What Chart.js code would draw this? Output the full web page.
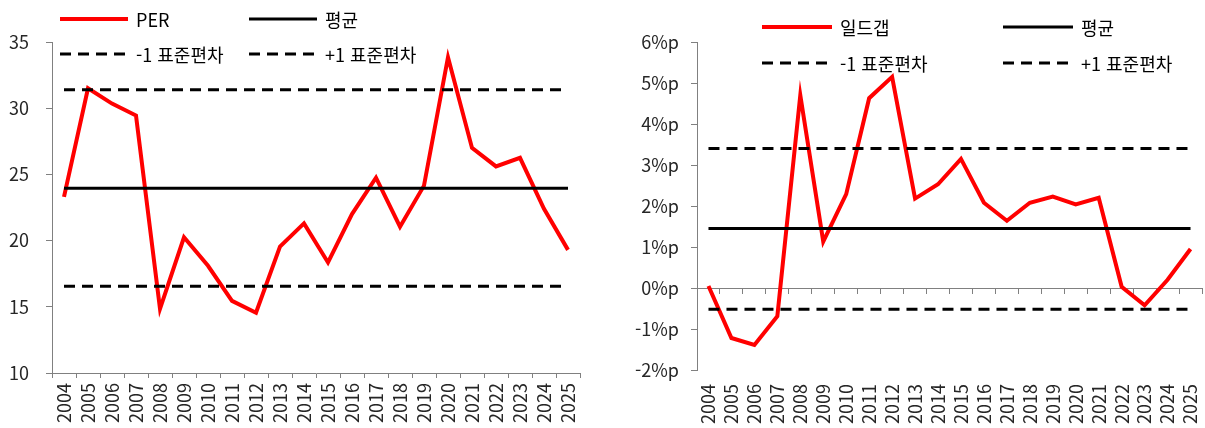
<!DOCTYPE html>
<html lang="ko">
<head>
<meta charset="utf-8">
<script src="https://cdn.jsdelivr.net/npm/chart.js@4.4.1/dist/chart.umd.min.js"></script>
<style>
html, body { margin: 0; padding: 0; background: #fff; }
#wrap { position: relative; width: 1205px; height: 428px; overflow: hidden;
        font-family: 'Noto Sans CJK KR', 'Noto Sans', sans-serif; }
#wrap canvas { position: absolute; top: 0; }
#perCanvas { left: 0; }
#gapCanvas { left: 600px; }
.legend { position: absolute; }
.legend .item { position: absolute; display: flex; align-items: center; height: 30px;
                margin-top: -15px; white-space: nowrap; font-size: 18px; color: #000; }
.legend svg { display: block; margin-right: 8px; }
</style>
</head>
<body>
<div id="wrap">
  <canvas id="perCanvas" width="600" height="428"></canvas>
  <canvas id="gapCanvas" width="605" height="428"></canvas>
  <div class="legend" id="perLegend" style="left:60px; top:19px;"></div>
  <div class="legend" id="gapLegend" style="left:762px; top:27px;"></div>
</div>
<script>
// Years on the category axis
const years = ['2004', '2005', '2006', '2007', '2008', '2009', '2010', '2011', '2012', '2013', '2014',
               '2015', '2016', '2017', '2018', '2019', '2020', '2021', '2022', '2023', '2024', '2025'];

// Left panel: PER with its average and ±1 standard deviation bands
const perValues = [23.3, 31.5, 30.35, 29.45, 14.85, 20.25, 18.1, 15.45, 14.55, 19.55, 21.3,
                   18.35, 22.0, 24.75, 21.05, 24.15, 33.85, 27.0, 25.6, 26.25, 22.4, 19.3];
const perMean = 23.95;
const perLowerBand = 16.55;
const perUpperBand = 31.4;
const perLabels = ['PER', '평균', '-1 표준편차', '+1 표준편차'];

// Right panel: yield gap (%p) with its average and ±1 standard deviation bands
const gapValues = [0.05, -1.22, -1.39, -0.69, 4.7, 1.13, 2.29, 4.63, 5.15, 2.18, 2.53,
                   3.15, 2.08, 1.64, 2.08, 2.23, 2.04, 2.2, 0.03, -0.42, 0.2, 0.95];
const gapMean = 1.45;
const gapLowerBand = -0.52;
const gapUpperBand = 3.4;
const gapLabels = ['일드갭', '평균', '-1 표준편차', '+1 표준편차'];

// Value-axis ranges and the tick label suffix of the right panel
const perAxis = { min: 10, max: 35, step: 5 };
const gapAxis = { min: -2, max: 6, step: 1 };
const gapTickSuffix = '%p';

const RED = '#ff0000';
const BLACK = '#000000';
const AXIS = '#808080';
const TEXT = '#262626';
const FONT = "'Noto Sans CJK KR', 'Noto Sans', sans-serif";
const DASH = [11, 7];

Chart.defaults.font.family = FONT;
Chart.defaults.font.size = 18;
Chart.defaults.color = TEXT;

function flat(v) { return years.map(() => v); }

function buildDatasets(labels, values, mean, lower, upper, xId) {
  const common = { pointRadius: 0, pointHoverRadius: 0, tension: 0, fill: false,
                   xAxisID: xId, yAxisID: 'y' };
  return [
    Object.assign({ label: labels[0], data: values, borderColor: RED, borderWidth: 4, order: 1 }, common),
    Object.assign({ label: labels[1], data: flat(mean), borderColor: BLACK, borderWidth: 3, order: 0 }, common),
    Object.assign({ label: labels[2], data: flat(lower), borderColor: BLACK, borderWidth: 3, borderDash: DASH, order: 0 }, common),
    Object.assign({ label: labels[3], data: flat(upper), borderColor: BLACK, borderWidth: 3, borderDash: DASH, order: 0 }, common)
  ];
}

// Keep the plot edges where the layout padding puts them, without extra room for rotated labels
function fixCategoryAxis(height) {
  return (s) => {
    if (height !== undefined) s.height = height;
    s.paddingLeft = 0;
    s.paddingRight = 0;
  };
}

const baseOptions = {
  responsive: false,
  animation: false,
  devicePixelRatio: 1,
  events: [],
  plugins: { legend: { display: false }, tooltip: { enabled: false } }
};

// Left chart: PER
const perChart = new Chart(document.getElementById('perCanvas'), {
  type: 'line',
  data: { labels: years, datasets: buildDatasets(perLabels, perValues, perMean, perLowerBand, perUpperBand, 'x') },
  options: Object.assign({}, baseOptions, {
    layout: { padding: { top: 42, right: 20, left: 0, bottom: 0 } },
    scales: {
      x: {
        type: 'category', axis: 'x', position: 'bottom', offset: true,
        border: { display: true, color: AXIS, width: 1 },
        grid: { display: true, drawOnChartArea: false, drawTicks: true, tickLength: 5, color: AXIS, offset: true },
        ticks: { autoSkip: false, minRotation: 90, maxRotation: 90, padding: 5, color: TEXT, font: { size: 18 } },
        afterFit: fixCategoryAxis(55)
      },
      y: {
        type: 'linear', position: 'left', min: perAxis.min, max: perAxis.max,
        border: { display: true, color: AXIS, width: 1 },
        grid: { drawOnChartArea: false, tickLength: 6, color: AXIS },
        ticks: { stepSize: perAxis.step, padding: 17, color: TEXT, font: { size: 18 } },
        afterFit: (s) => { s.width = 52; }
      }
    }
  })
});

// Right chart: yield gap, the category axis line sits on the zero value
const gapChart = new Chart(document.getElementById('gapCanvas'), {
  type: 'line',
  data: { labels: years, datasets: buildDatasets(gapLabels, gapValues, gapMean, gapLowerBand, gapUpperBand, 'x') },
  options: Object.assign({}, baseOptions, {
    layout: { padding: { top: 42, right: 3, left: 0, bottom: 0 } },
    scales: {
      x: {
        type: 'category', axis: 'x', position: { y: 0 }, offset: true,
        border: { display: true, color: AXIS, width: 1 },
        grid: { display: true, drawOnChartArea: false, drawTicks: true, tickLength: 5, color: AXIS, offset: true },
        ticks: { display: false, autoSkip: false },
        afterFit: fixCategoryAxis()
      },
      xb: {
        type: 'category', axis: 'x', position: 'bottom', offset: true,
        border: { display: false },
        grid: { display: false, drawTicks: true, tickLength: 5 },
        ticks: { autoSkip: false, minRotation: 90, maxRotation: 90, padding: 9, color: TEXT, font: { size: 18 } },
        afterFit: fixCategoryAxis(58)
      },
      y: {
        type: 'linear', position: 'left', min: gapAxis.min, max: gapAxis.max,
        border: { display: true, color: AXIS, width: 1 },
        grid: { drawOnChartArea: false, tickLength: 6, color: AXIS },
        ticks: { stepSize: gapAxis.step, padding: 12, color: TEXT, font: { size: 18 },
                 callback: (v) => v + gapTickSuffix },
        afterFit: (s) => { s.width = 97; }
      }
    }
  })
});

// Two-column legend built from each chart's dataset styles
function buildLegend(chart, el, colWidth, rowHeight, sampleWidth) {
  chart.data.datasets.forEach((ds, i) => {
    const item = document.createElement('div');
    item.className = 'item';
    item.style.left = (i % 2) * colWidth + 'px';
    item.style.top = Math.floor(i / 2) * rowHeight + 'px';
    const ns = 'http://www.w3.org/2000/svg';
    const svg = document.createElementNS(ns, 'svg');
    svg.setAttribute('width', sampleWidth);
    svg.setAttribute('height', 8);
    const line = document.createElementNS(ns, 'line');
    line.setAttribute('x1', 0); line.setAttribute('y1', 4);
    line.setAttribute('x2', sampleWidth); line.setAttribute('y2', 4);
    line.setAttribute('stroke', ds.borderColor);
    line.setAttribute('stroke-width', ds.borderWidth);
    if (ds.borderDash) line.setAttribute('stroke-dasharray', ds.borderDash.join(' '));
    svg.appendChild(line);
    const span = document.createElement('span');
    span.textContent = ds.label;
    item.appendChild(svg);
    item.appendChild(span);
    el.appendChild(item);
  });
}

buildLegend(perChart, document.getElementById('perLegend'), 189, 35, 68);
buildLegend(gapChart, document.getElementById('gapLegend'), 241, 36, 70);
</script>
</body>
</html>
